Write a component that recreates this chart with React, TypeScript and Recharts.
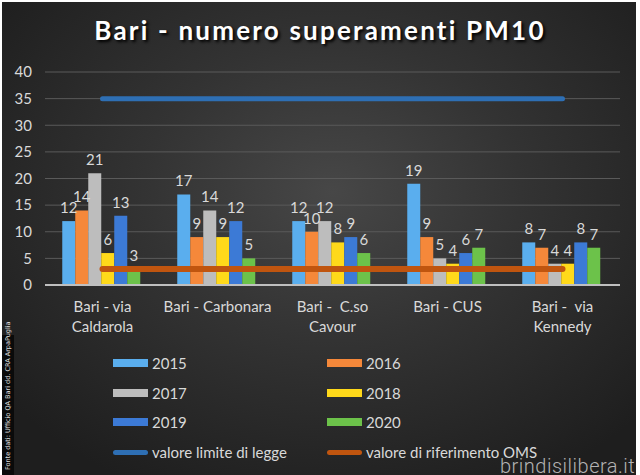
import React from 'react';
import { ComposedChart, Bar, Line, XAxis, YAxis, CartesianGrid, LabelList, Legend } from 'recharts';

const categories = ['Bari - via\nCaldarola', 'Bari - Carbonara', 'Bari -  C.so\nCavour', 'Bari - CUS', 'Bari -  via\nKennedy'];
const y2015 = [12, 17, 12, 19, 8];
const y2016 = [14, 9, 10, 9, 7];
const y2017 = [21, 14, 12, 5, 4];
const y2018 = [6, 9, 8, 4, 4];
const y2019 = [13, 12, 9, 6, 8];
const y2020 = [3, 5, 6, 7, 7];
const limiteLegge = [35, 35, 35, 35, 35];
const riferimentoOMS = [3, 3, 3, 3, 3];
const yTicks = [0, 5, 10, 15, 20, 25, 30, 35, 40];
const legendOrder = ['2015', '2016', '2017', '2018', '2019', '2020', 'valore limite di legge', 'valore di riferimento OMS'];

const barSeries = [
  { key: 'y2015', name: '2015', values: y2015, color: '#5aaeee' },
  { key: 'y2016', name: '2016', values: y2016, color: '#f5883a' },
  { key: 'y2017', name: '2017', values: y2017, color: '#bdbdbd' },
  { key: 'y2018', name: '2018', values: y2018, color: '#ffd91a' },
  { key: 'y2019', name: '2019', values: y2019, color: '#3c7ad6' },
  { key: 'y2020', name: '2020', values: y2020, color: '#6cc24a' },
];

const data = categories.map((c, i) => {
  const row: any = { cat: c, limite: limiteLegge[i], oms: riferimentoOMS[i] };
  barSeries.forEach((s) => { row[s.key] = s.values[i]; });
  return row;
});

const FONT = 'Lato, "Open Sans", sans-serif';
const TXT = '#d9d9d9';

const XTick = (props: any) => {
  const { x, y, payload } = props;
  const lines = String(payload.value).split('\n');
  return (
    <g transform={`translate(${x},${y})`}>
      <text textAnchor="middle" fill={TXT} fontSize={15} fontFamily={FONT} style={{ whiteSpace: 'pre' }}>
        {lines.map((l, i) => (
          <tspan key={i} x={0} dy={i === 0 ? 19 : 20}>{l}</tspan>
        ))}
      </text>
    </g>
  );
};

const LegendContent = (props: any) => {
  const payload = [...(props.payload || [])].sort(
    (a: any, b: any) => legendOrder.indexOf(String(a.value)) - legendOrder.indexOf(String(b.value))
  );
  return (
    <div style={{ position: 'relative', width: 640, height: 130 }}>
      {payload.map((item: any, i: number) => {
        const col = i % 2;
        const row = Math.floor(i / 2);
        const left = col === 0 ? 113 : 327;
        const top = row * 29.7;
        const isLine = item.type === 'line';
        return (
          <div key={i} style={{ position: 'absolute', left, top, height: 20, display: 'flex', alignItems: 'center', whiteSpace: 'nowrap' }}>
            <div style={{ width: 35, height: isLine ? 5 : 8, background: item.color, borderRadius: isLine ? 3 : 0, marginRight: 4 }} />
            <span style={{ color: TXT, fontSize: 15, fontFamily: FONT }}>{item.value}</span>
          </div>
        );
      })}
    </div>
  );
};

export default function App() {
  return (
    <div style={{ position: 'absolute', left: 0, top: 0, width: 640, height: 475, overflow: 'hidden', background: '#fff' }}>
      <div style={{ position: 'absolute', left: 2, top: 2, width: 634, height: 473, background: 'radial-gradient(ellipse 420px 330px at 330px 190px, #474747 0%, #333 45%, #1e1e1e 100%)' }} />
      <div style={{ position: 'absolute', left: 2, top: 335, width: 12, height: 140, background: '#0a0a0a' }} />
      <div style={{ position: 'absolute', left: 0, top: 14, width: 640, textAlign: 'center', color: '#ffffff', fontFamily: FONT, fontWeight: 700, fontSize: 26, letterSpacing: 2.2, textShadow: '2px 2px 3px #000' }}>
        Bari - numero superamenti PM10
      </div>
      <div style={{ position: 'absolute', left: 0, top: 0 }}>
        <ComposedChart width={640} height={475} data={data} margin={{ top: 72, right: 20, bottom: 160, left: 0 }} barCategoryGap="15%" barGap={0}>
          <CartesianGrid vertical={false} stroke="#5a5a5a" strokeWidth={1} />
          <XAxis dataKey="cat" interval={0} height={30} tick={<XTick />} tickLine={false} axisLine={{ stroke: '#bfbfbf', strokeWidth: 2 }} />
          <YAxis domain={[0, 40]} ticks={yTicks} width={45} tickLine={false} axisLine={false} tickSize={0} tickMargin={13} tick={{ fill: TXT, fontSize: 15, fontFamily: FONT }} />
          {barSeries.map((s) => (
            <Bar key={s.key} dataKey={s.key} name={s.name} fill={s.color} isAnimationActive={false}>
              <LabelList dataKey={s.key} position="top" offset={8} fill={TXT} fontSize={15} fontFamily={FONT} />
            </Bar>
          ))}
          <Line dataKey="limite" name="valore limite di legge" stroke="#2e6fb4" strokeWidth={5} strokeLinecap="round" dot={false} activeDot={false} isAnimationActive={false} legendType="line" />
          <Line dataKey="oms" name="valore di riferimento OMS" stroke="#c0550f" strokeWidth={6} strokeLinecap="round" dot={false} activeDot={false} isAnimationActive={false} legendType="line" />
          <Legend content={<LegendContent />} layout="horizontal" verticalAlign="middle" align="center" wrapperStyle={{ left: 0, top: 353, width: 640, height: 130 }} />
        </ComposedChart>
      </div>
      <div style={{ position: 'absolute', left: 2, top: 470, transform: 'rotate(-90deg)', transformOrigin: '0 0', color: '#e0e0e0', fontFamily: '"DejaVu Sans", sans-serif', fontSize: 6.5, whiteSpace: 'nowrap', width: 140, lineHeight: '12px' }}>
        Fonte dati: Ufficio QA Bari dd. CRA ArpaPuglia
      </div>
      <div style={{ position: 'absolute', left: 500, top: 454, color: '#b3b3b3', fontFamily: 'Roboto, sans-serif', fontWeight: 300, fontSize: 20, whiteSpace: 'nowrap', letterSpacing: 0.5 }}>
        brindisilibera.it
      </div>
    </div>
  );
}
